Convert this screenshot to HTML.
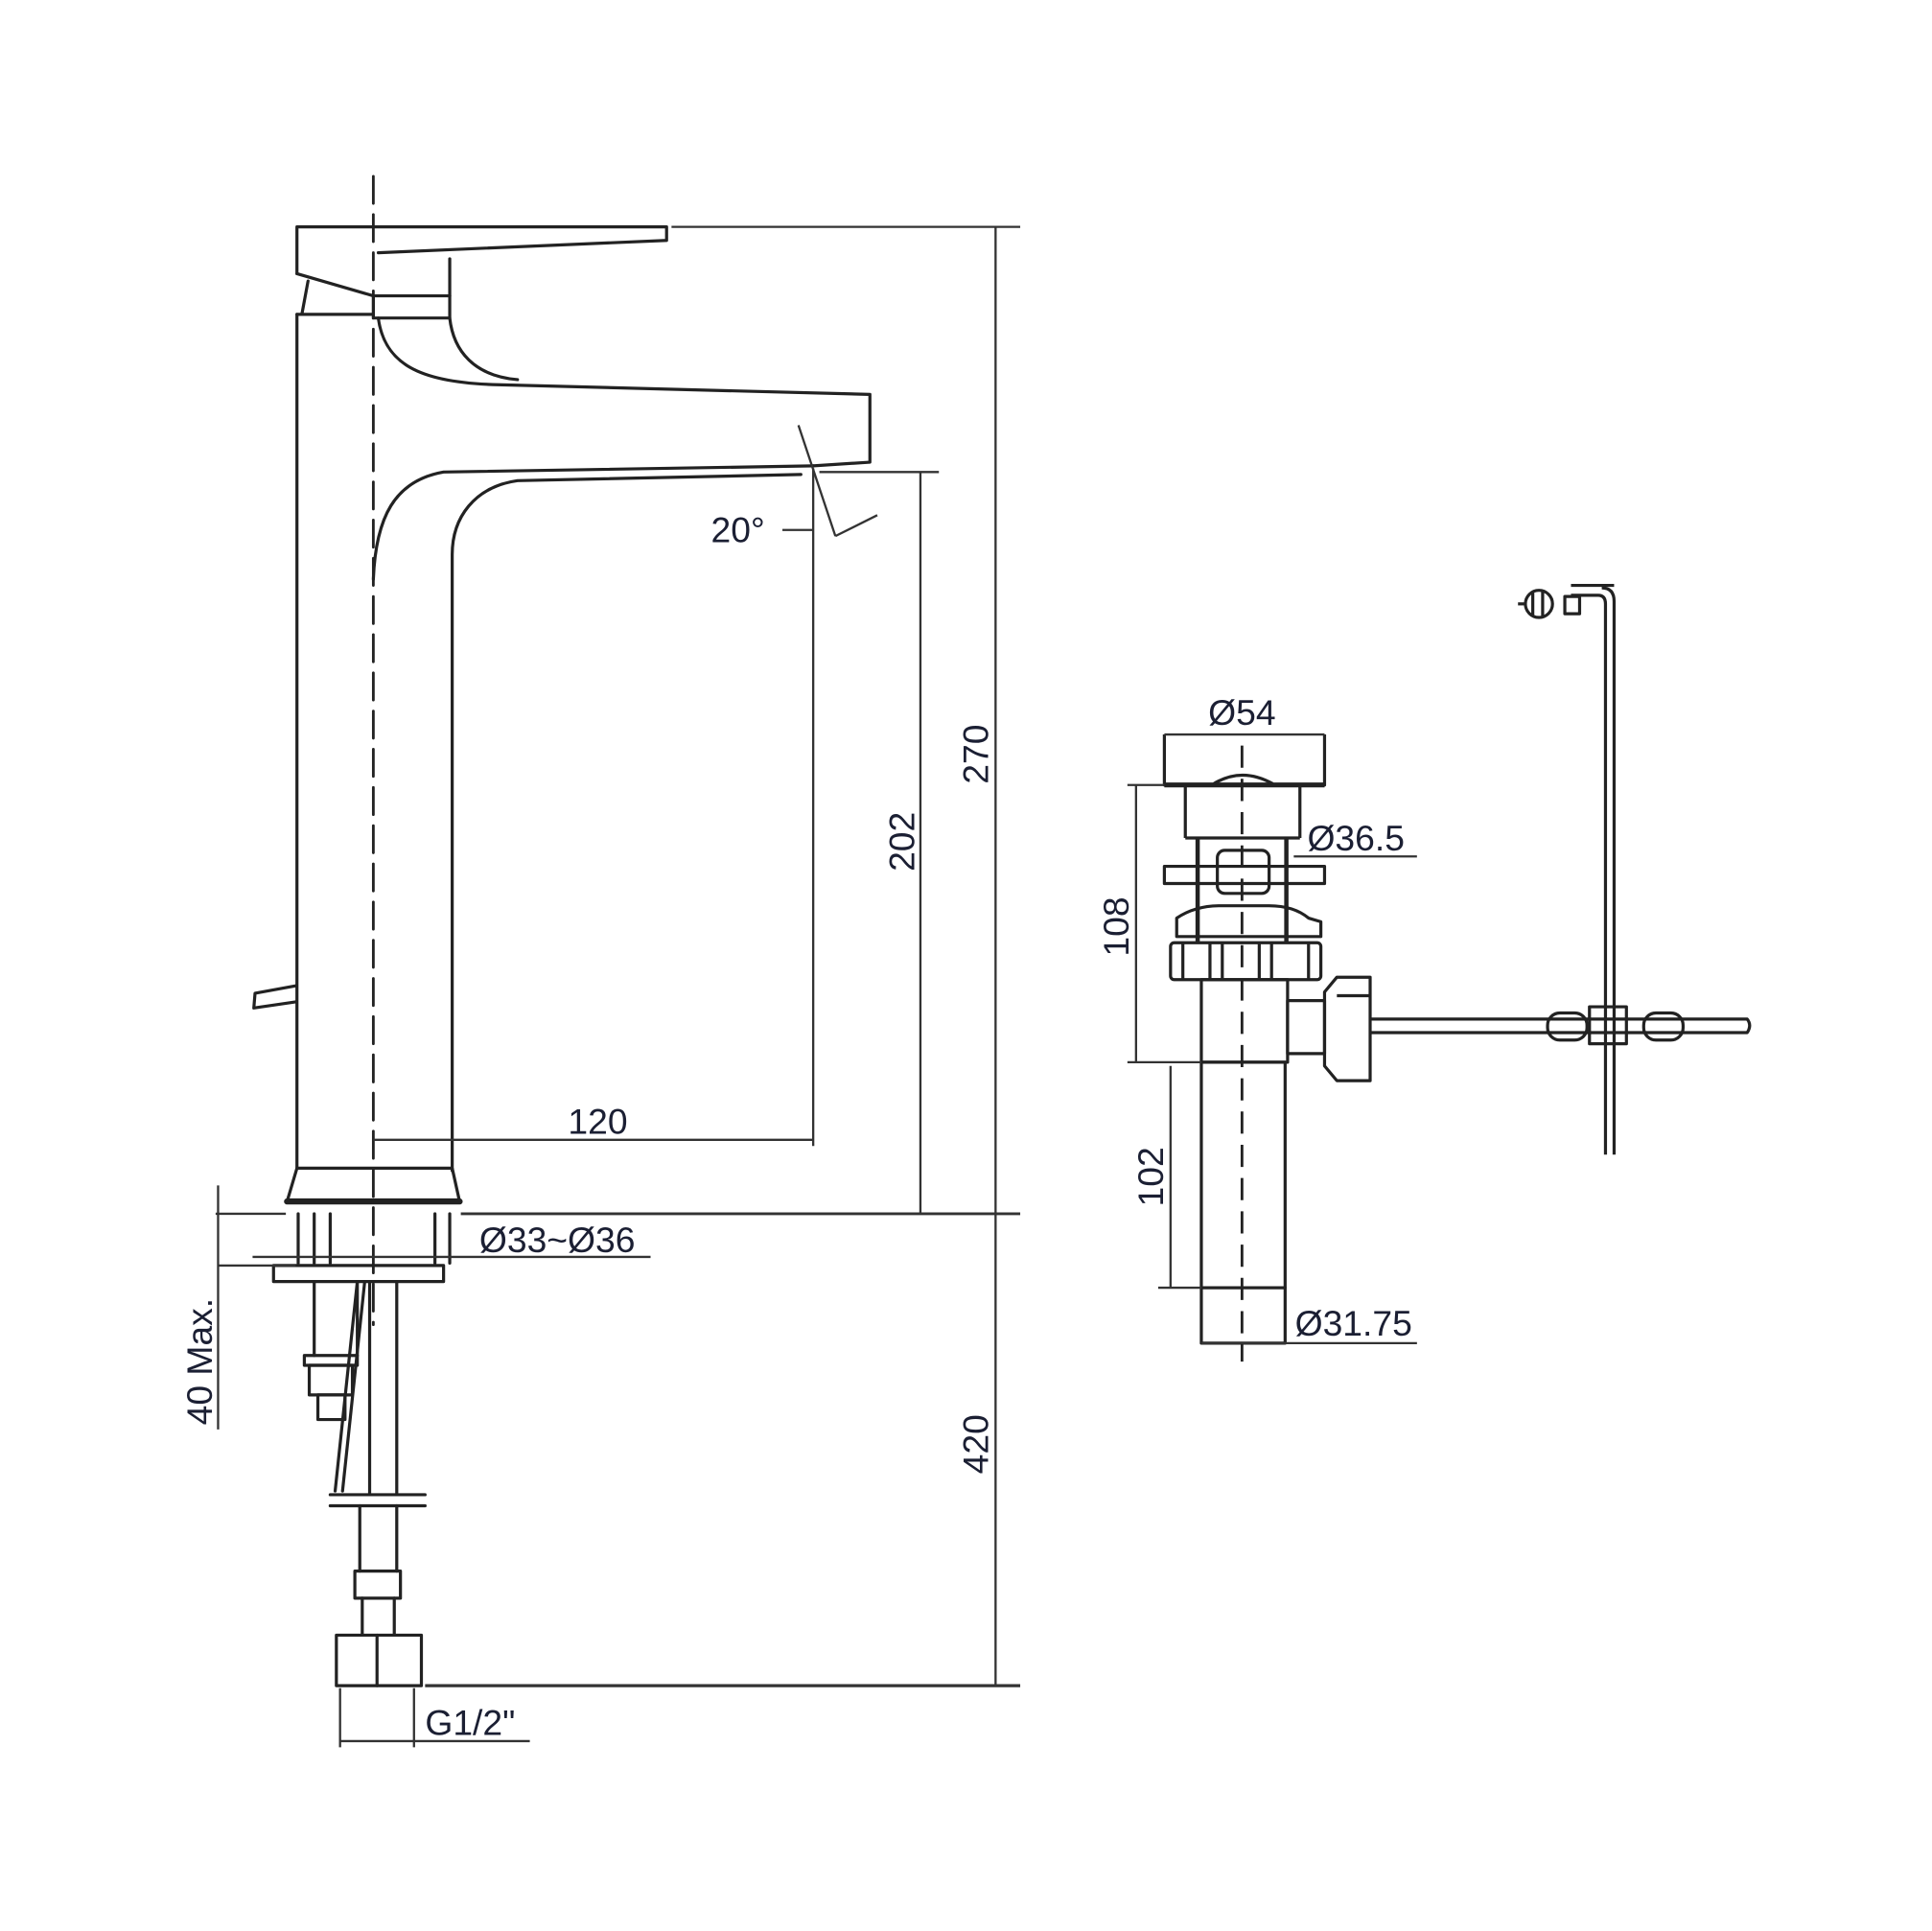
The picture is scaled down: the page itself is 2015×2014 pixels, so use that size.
<!DOCTYPE html>
<html><head><meta charset="utf-8"><style>
html,body{margin:0;padding:0;background:#fff}
svg{display:block}
text{font-family:"Liberation Sans",sans-serif;fill:#1b1f33}
</style></head><body>
<svg width="2015" height="2014" viewBox="0 0 1568 1567" xmlns="http://www.w3.org/2000/svg">
<g fill="none" stroke="#222" stroke-width="2.5" stroke-linecap="round" stroke-linejoin="round">
<line x1="303" y1="143" x2="303" y2="1075" stroke-dasharray="22,9" stroke-width="2.2"/>
<path d="M241 222 L241 184 L541 184 L541 195 L307 205"/>
<path d="M241 222 L303 240 L303 258 L365 258 L365 210"/>
<line x1="303" y1="240" x2="365" y2="240"/>
<path d="M241 255 L303 255"/>
<path d="M250 228 L245 255"/>
<path d="M307 258 C312 295 340 310 400 312 L706 320 L706 375 L660 378"/>
<path d="M365 258 C368 285 385 305 420 308"/>
<path d="M660 378 L360 383 C320 390 305 420 303 470"/>
<path d="M650 385 L420 390 C385 395 367 420 367 450 L367 950"/>
<line x1="241" y1="255" x2="241" y2="948"/>
<path d="M241 948 L367 948 L373 975 L233 975 Z"/>
<line x1="233" y1="975" x2="373" y2="975" stroke-width="5"/>
<path d="M240 800 L207 806 L206 818 L240 813"/>
<path d="M242 985 L242 1025 M255 985 L255 1025 M268 985 L268 1025 M353 985 L353 1025 M365 985 L365 1025"/>
<rect x="222" y="1027" width="138" height="13"/>
<path d="M255 1040 L255 1100 M290 1040 L290 1100"/>
<rect x="247" y="1100" width="43" height="8"/>
<rect x="251" y="1108" width="35" height="24"/>
<rect x="258" y="1132" width="22" height="20"/>
<path d="M290 1040 L272 1210 M296 1040 L278 1210"/>
<path d="M322 1040 L322 1213 M300 1040 L300 1213"/>
<line x1="268" y1="1213" x2="345" y2="1213"/>
<line x1="268" y1="1222" x2="345" y2="1222"/>
<path d="M292 1222 L292 1275 M322 1222 L322 1275"/>
<rect x="288" y="1275" width="37" height="22"/>
<path d="M294 1297 L294 1327 M320 1297 L320 1327"/>
<rect x="273" y="1327" width="69" height="41"/>
<line x1="306" y1="1327" x2="306" y2="1368"/>
</g>
<g fill="none" stroke="#333" stroke-width="1.8">
<line x1="648" y1="345" x2="678" y2="435"/>
<line x1="678" y1="435" x2="712" y2="418"/>
<line x1="660" y1="380" x2="660" y2="930"/>
<line x1="635" y1="430" x2="660" y2="430"/>
<line x1="303" y1="925" x2="660" y2="925"/>
<line x1="665" y1="383" x2="762" y2="383"/>
<line x1="747" y1="383" x2="747" y2="985"/>
<line x1="545" y1="184" x2="828" y2="184"/>
<line x1="808" y1="184" x2="808" y2="1368"/>
<line x1="175" y1="985" x2="232" y2="985"/>
<line x1="374" y1="985" x2="828" y2="985" stroke-width="2.2"/>
<line x1="345" y1="1368" x2="828" y2="1368" stroke-width="2.6"/>
<line x1="177" y1="962" x2="177" y2="1160"/>
<line x1="177" y1="1027" x2="240" y2="1027"/>
<line x1="205" y1="1020" x2="528" y2="1020"/>
<line x1="276" y1="1370" x2="276" y2="1418"/>
<line x1="336" y1="1370" x2="336" y2="1418"/>
<line x1="276" y1="1413" x2="430" y2="1413"/>
</g>
<g font-size="29">
<text x="577" y="440">20°</text>
<text x="461" y="920">120</text>
<text x="389" y="1016">Ø33~Ø36</text>
<text x="345" y="1408">G1/2"</text>
<text transform="translate(742,683) rotate(-90)" text-anchor="middle">202</text>
<text transform="translate(802,612) rotate(-90)" text-anchor="middle">270</text>
<text transform="translate(802,1172) rotate(-90)" text-anchor="middle">420</text>
<text transform="translate(172,1105) rotate(-90)" text-anchor="middle">40 Max.</text>
</g>
<g fill="none" stroke="#222" stroke-width="2.5" stroke-linejoin="round">
<line x1="1008" y1="605" x2="1008" y2="1105" stroke-dasharray="18,9" stroke-width="2.2"/>
<path d="M945 596 L945 637 L1075 637 L1075 596"/>
<line x1="945" y1="637" x2="1075" y2="637" stroke-width="4"/>
<path d="M985 636 Q1008 622 1033 636"/>
<path d="M962 637 L962 680 M1055 637 L1055 680"/>
<path d="M962 680 L1055 680"/>
<path d="M972 680 L972 765 M1044 680 L1044 765" stroke-width="3.5"/>
<rect x="945" y="703" width="130" height="14"/>
<rect x="988" y="690" width="42" height="35" rx="6"/>
<path d="M955 760 L955 745 Q970 735 990 735 L1030 735 Q1050 735 1062 745 L1072 748 L1072 760 Z"/>
<rect x="950" y="765" width="122" height="30" rx="3"/>
<path d="M960 765 L960 795 M982 765 L982 795 M992 765 L992 795 M1022 765 L1022 795 M1032 765 L1032 795 M1062 765 L1062 795"/>
<rect x="975" y="795" width="70" height="67"/>
<rect x="1045" y="812" width="30" height="43"/>
<path d="M1075 805 L1085 793 L1112 793 L1112 877 L1085 877 L1075 865 Z"/>
<line x1="1085" y1="808" x2="1112" y2="808"/>
<path d="M1112 827 L1418 827 Q1422 832 1418 838 L1112 838"/>
<rect x="1256" y="822" width="32" height="22" rx="10"/>
<rect x="1334" y="822" width="32" height="22" rx="10"/>
<rect x="1290" y="817" width="30" height="30"/>
<path d="M1303 937 L1303 490 Q1303 483 1297 483 L1275 483 M1310 937 L1310 488 Q1310 477 1300 477"/>
<line x1="1275" y1="475" x2="1310" y2="475"/>
<circle cx="1249" cy="490" r="11"/>
<line x1="1244" y1="480" x2="1244" y2="500"/>
<line x1="1252" y1="480" x2="1252" y2="500"/>
<rect x="1270" y="484" width="12" height="14"/>
<line x1="1232" y1="490" x2="1238" y2="490"/>
<rect x="975" y="862" width="68" height="183"/>
<rect x="975" y="1045" width="68" height="45"/>
</g>
<g fill="none" stroke="#333" stroke-width="1.8">
<line x1="945" y1="596" x2="1075" y2="596"/>
<line x1="922" y1="637" x2="922" y2="862"/>
<line x1="915" y1="637" x2="945" y2="637"/>
<line x1="915" y1="862" x2="975" y2="862"/>
<line x1="950" y1="865" x2="950" y2="1045"/>
<line x1="940" y1="1045" x2="975" y2="1045"/>
<line x1="1050" y1="695" x2="1150" y2="695"/>
<line x1="975" y1="1090" x2="1150" y2="1090"/>
</g>
<g font-size="29">
<text x="1008" y="588" text-anchor="middle">Ø54</text>
<text x="1061" y="690">Ø36.5</text>
<text x="1051" y="1084">Ø31.75</text>
<text transform="translate(916,752) rotate(-90)" text-anchor="middle">108</text>
<text transform="translate(944,955) rotate(-90)" text-anchor="middle">102</text>
</g>
</svg>
</body></html>
